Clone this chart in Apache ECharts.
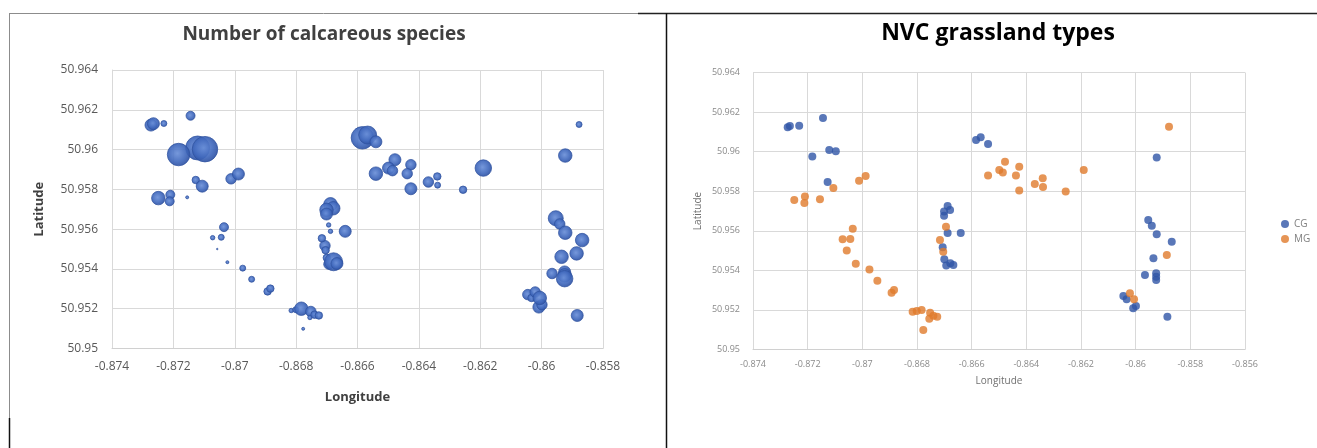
<!DOCTYPE html>
<html>
<head>
<meta charset="utf-8">
<script src="https://cdn.jsdelivr.net/npm/echarts@6/dist/echarts.min.js"></script>
<style>
html,body{margin:0;padding:0;background:#fff;}
#chart{width:1317px;height:448px;}
</style>
</head>
<body>
<div id="chart"></div>
<script>
// Site longitudes / latitudes
const longitudes = [
  -0.87273,-0.87265,-0.87231,-0.87144,-0.87121,-0.87097,-0.87183,-0.87127,
  -0.87249,-0.87210,-0.87212,-0.87155,-0.87106,-0.87012,-0.86988,-0.87035,
  -0.87072,-0.87044,-0.87057,-0.87024,-0.86974,-0.86945,-0.86893,-0.86884,
  -0.86816,-0.86801,-0.86783,-0.86752,-0.86755,-0.86740,-0.86726,-0.86777,
  -0.86688,-0.86679,-0.86701,-0.86701,-0.86688,-0.86640,-0.86706,-0.86700,
  -0.86693,-0.86678,-0.86667,-0.86694,-0.86716,-0.86704,
  -0.86584,-0.86567,-0.86540,-0.86478,-0.86499,-0.86486,-0.86540,-0.86426,
  -0.86438,-0.86426,-0.86369,-0.86340,-0.86339,-0.86256,-0.86190,
  -0.85878,-0.85923,-0.85954,-0.85941,-0.85923,-0.85868,-0.85886,-0.85935,
  -0.85966,-0.85925,-0.85925,-0.85925,-0.86045,-0.86033,-0.86009,-0.85999,
  -0.86021,-0.86006,-0.85884
];
const latitudes = [
  50.96123,50.96130,50.96131,50.96170,50.96008,50.96002,50.95975,50.95847,
  50.95756,50.95773,50.95740,50.95760,50.95816,50.95853,50.95877,50.95610,
  50.95557,50.95559,50.95500,50.95434,50.95404,50.95348,50.95287,50.95301,
  50.95191,50.95195,50.95200,50.95186,50.95156,50.95170,50.95166,50.95099,
  50.95725,50.95705,50.95697,50.95676,50.95589,50.95589,50.95517,50.95456,
  50.95424,50.95436,50.95427,50.95621,50.95554,50.95494,
  50.96059,50.96073,50.96039,50.95949,50.95907,50.95894,50.95879,50.95924,
  50.95879,50.95803,50.95837,50.95865,50.95821,50.95798,50.95907,
  50.96126,50.95970,50.95655,50.95626,50.95582,50.95545,50.95478,50.95461,
  50.95377,50.95385,50.95368,50.95351,50.95271,50.95254,50.95208,50.95220,
  50.95284,50.95254,50.95166
];
// Number of calcareous species at each site (bubble size)
const speciesCounts = [
  8,8,4,6,16,17,15,5,
  9,6,6,2,8,7,8,6,
  3,4,1,2,4,4,5,5,
  3,4,9,7,3,5,5,2,
  9,9,9,8,3,8,7,5,
  7,12,8,3,5,5,
  15,12,8,8,8,7,9,7,
  7,8,7,5,4,5,11,
  4,9,10,7,9,9,9,9,
  7,8,9,11,7,5,8,7,
  7,9,8
];
// NVC grassland type at each site
const grasslandTypes = [
  'CG','CG','CG','CG','CG','CG','CG','CG',
  'MG','MG','MG','MG','MG','MG','MG','MG',
  'MG','MG','MG','MG','MG','MG','MG','MG',
  'MG','MG','MG','MG','MG','MG','MG','MG',
  'CG','CG','CG','CG','CG','CG','CG','CG',
  'CG','CG','CG','MG','MG','MG',
  'CG','CG','CG','MG','MG','MG','MG','MG',
  'MG','MG','MG','MG','MG','MG','MG',
  'MG','CG','CG','CG','CG','CG','MG','CG',
  'CG','CG','CG','CG','CG','CG','CG','CG',
  'MG','MG','CG'
];
const typeNames = ['CG','MG'];
const xTicks = {min:-0.874, interval:0.002};
const yTicks = {min:50.95, max:50.964, interval:0.002};

const bubbleData = longitudes.map((lon,i)=>[lon, latitudes[i], speciesCounts[i]]);
const typeData = typeNames.map(t => longitudes
  .map((lon,i)=>[lon, latitudes[i], grasslandTypes[i]])
  .filter(d=>d[2]===t).map(d=>[d[0],d[1]]));

const FONT = "'Open Sans', 'Noto Sans', sans-serif";
const chart = echarts.init(document.getElementById('chart'), null, {renderer:'canvas'});

function xAxisCfg(gridIndex, max, fs, color, nameFs, nameBold, nameGap, nameColor, margin){
  return {
    type:'value', gridIndex, min:xTicks.min, max, interval:xTicks.interval,
    name:'Longitude', nameLocation:'middle', nameGap,
    nameTextStyle:{fontFamily:FONT, fontSize:nameFs, fontWeight:nameBold?'bold':'normal', color:nameColor},
    axisLine:{show:true, lineStyle:{color:'#d0d0d0'}}, axisTick:{show:false},
    axisLabel:{fontFamily:FONT, fontSize:fs, color, margin, formatter:v=>String(+v.toFixed(3))},
    splitLine:{show:true, lineStyle:{color:'#d9d9d9', width:1}}
  };
}
function yAxisCfg(gridIndex, fs, color, nameFs, nameBold, nameGap, nameColor, margin){
  return {
    type:'value', gridIndex, min:yTicks.min, max:yTicks.max, interval:yTicks.interval,
    name:'Latitude', nameLocation:'middle', nameGap, nameRotate:90,
    nameTextStyle:{fontFamily:FONT, fontSize:nameFs, fontWeight:nameBold?'bold':'normal', color:nameColor},
    axisLine:{show:true, lineStyle:{color:'#d9d9d9'}}, axisTick:{show:false},
    axisLabel:{fontFamily:FONT, fontSize:fs, color, margin, formatter:v=>String(+v.toFixed(3))},
    splitLine:{show:true, lineStyle:{color:'#d9d9d9', width:1}}
  };
}

const option = {
  animation:false,
  backgroundColor:'#ffffff',
  grid:[
    {left:112, top:70, width:491, height:278.5},
    {left:753, top:72.5, width:492, height:277}
  ],
  xAxis:[
    xAxisCfg(0, -0.858, 12, '#595959', 13, true, 42, '#404040', 12),
    xAxisCfg(1, -0.856, 9, '#8a8a8a', 10, false, 27, '#707070', 10)
  ],
  yAxis:[
    yAxisCfg(0, 12, '#595959', 13, true, 66, '#404040', 14),
    yAxisCfg(1, 9, '#8a8a8a', 10, false, 50, '#707070', 13)
  ],
  legend:{
    data:typeNames, orient:'vertical', left:1276, top:214, itemGap:5,
    icon:'circle', itemWidth:8, itemHeight:8,
    textStyle:{fontFamily:FONT, fontSize:10, color:'#808080'}
  },
  series:[
    {
      name:'Species', type:'scatter', xAxisIndex:0, yAxisIndex:0,
      data:bubbleData,
      symbolSize: v => v[2]*1.5,
      itemStyle:{
        color:{type:'radial', x:0.45, y:0.45, r:0.6, colorStops:[
          {offset:0, color:'#6a8fd8'},{offset:0.6, color:'#4169bd'},{offset:1, color:'#2b4d9c'}]},
        borderColor:'#2f52a0', borderWidth:0.8, opacity:0.92
      }
    },
    {
      name:'CG', type:'scatter', xAxisIndex:1, yAxisIndex:1,
      data:typeData[0], symbolSize:8,
      itemStyle:{color:'#2f55a6'}
    },
    {
      name:'MG', type:'scatter', xAxisIndex:1, yAxisIndex:1,
      data:typeData[1], symbolSize:8,
      itemStyle:{color:'#e07b2c'}
    }
  ],
  graphic:[
    {type:'text', x:324, y:35, style:{text:'Number of calcareous species', align:'center', verticalAlign:'middle',
      font:"bold 19px 'Open Sans', sans-serif", fill:'#404040'}},
    {type:'text', x:998, y:33, style:{text:'NVC grassland types', align:'center', verticalAlign:'middle',
      font:"bold 23px 'Open Sans', sans-serif", fill:'#000000'}},
    {type:'line', shape:{x1:9, y1:13.5, x2:638, y2:13.5}, style:{stroke:'#8c8c8c', lineWidth:1}},
    {type:'line', shape:{x1:638, y1:13.5, x2:1317, y2:13.5}, style:{stroke:'#222', lineWidth:1.5}},
    {type:'line', shape:{x1:9.5, y1:13, x2:9.5, y2:418}, style:{stroke:'#8c8c8c', lineWidth:1}},
    {type:'line', shape:{x1:9.5, y1:418, x2:9.5, y2:448}, style:{stroke:'#111', lineWidth:1.5}},
    {type:'line', shape:{x1:666.5, y1:13, x2:666.5, y2:448}, style:{stroke:'#111', lineWidth:1.5}}
  ]
};
chart.setOption(option);
</script>
</body>
</html>
